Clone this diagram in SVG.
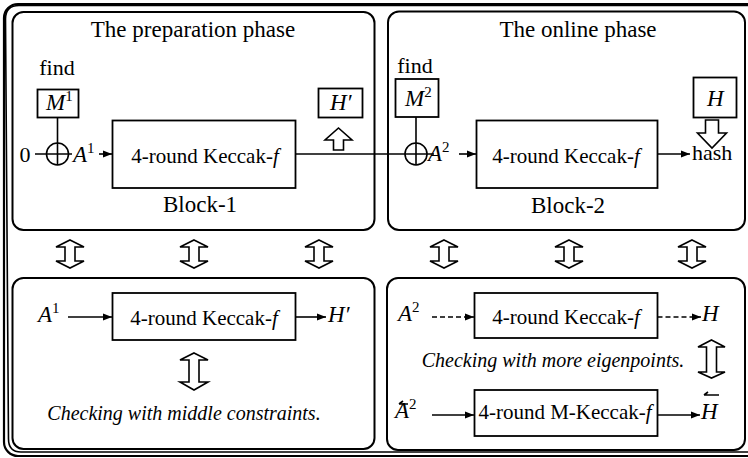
<svg xmlns="http://www.w3.org/2000/svg" width="748" height="458" viewBox="0 0 748 458" font-family="'Liberation Serif', 'Times New Roman', 'DejaVu Serif', serif">
  <style>
    .frame { fill: none; stroke: #000; stroke-width: 2.2; }
    .panel { fill: none; stroke: #000; stroke-width: 2; }
    .box { fill: #fff; stroke: #000; stroke-width: 1.8; }
    .ln { fill: none; stroke: #000; stroke-width: 1.6; }
    .dash { fill: none; stroke: #000; stroke-width: 1.6; stroke-dasharray: 5 3; }
    .hollow { fill: #fff; stroke: #000; stroke-width: 1.6; stroke-linejoin: miter; }
    text { font-family: 'Liberation Serif', 'Times New Roman', 'DejaVu Serif', serif; fill: #000; }
    .title { font-size: 23px; text-anchor: middle; }
    .lbl { font-size: 22px; }
    .fn { font-size: 21px; text-anchor: middle; }
    .math { font-size: 23px; font-style: italic; }
    .sup { font-size: 15px; font-style: normal; }
    .note { font-size: 20px; font-style: italic; text-anchor: middle; }
  </style>
  <defs>
    <marker id="head" markerUnits="userSpaceOnUse" markerWidth="10" markerHeight="8" refX="9" refY="4" orient="auto">
      <path d="M0,0.5 L9,4 L0,7.5 Z" fill="#000"/>
    </marker>
    <!-- hollow double-headed vertical arrow, 28 wide, 28 tall -->
    <path id="dbl" d="M0,0 L14,7 L5,7 L5,21 L14,21 L0,28 L-14,21 L-5,21 L-5,7 L-14,7 Z"/>
  </defs>

  <!-- outer double frame -->
  <g id="frame">
    <rect class="frame" x="4" y="4" width="800" height="452" rx="14"/>
    <path class="ln" stroke-width="1.3" d="M760,5.5 L19,5.5 Q5.5,5.5 5.5,19 L8.5,439 Q8.5,452 21,452 L760,452"/>
  </g>

  <!-- preparation phase -->
  <g id="prep-phase">
    <rect class="panel" x="12.5" y="12" width="362" height="218" rx="11"/>
    <text class="title" x="193" y="37">The preparation phase</text>
    <text class="lbl" x="57" y="75" text-anchor="middle">find</text>
    <text class="lbl" x="25" y="162" text-anchor="middle">0</text>
    <text class="math" x="73" y="162">A<tspan class="sup" dy="-9">1</tspan></text>
    <text class="title" x="200" y="212">Block-1</text>
  </g>
  <g id="m1">
    <rect class="box" x="37.5" y="89.5" width="41" height="28"/>
    <text class="math" x="46" y="110">M<tspan class="sup" dy="-9">1</tspan></text>
  </g>
  <g id="xor1">
    <circle class="ln" cx="57.5" cy="154" r="11" fill="none"/>
    <path class="ln" d="M57.5,117.5 V165"/>
  </g>
  <g id="keccak1">
    <rect class="box" x="112.5" y="120.5" width="183" height="67.5"/>
    <text class="fn" x="205" y="163">4-round Keccak-<tspan font-style="italic">f</tspan></text>
  </g>
  <g id="hprime">
    <rect class="box" x="318.5" y="88.5" width="44" height="29"/>
    <text class="math" x="330" y="110">H′</text>
  </g>

  <!-- online phase -->
  <g id="online-phase">
    <rect class="panel" x="388" y="11.5" width="357" height="218.5" rx="11"/>
    <text class="title" x="578" y="37">The online phase</text>
    <text class="lbl" x="415" y="73" text-anchor="middle">find</text>
    <text class="math" x="428" y="161">A<tspan class="sup" dy="-9">2</tspan></text>
    <text class="lbl" x="692" y="160" font-size="23px">hash</text>
    <text class="title" x="568" y="213">Block-2</text>
  </g>
  <g id="m2">
    <rect class="box" x="395.5" y="79" width="43" height="38"/>
    <text class="math" x="405" y="106">M<tspan class="sup" dy="-9">2</tspan></text>
  </g>
  <g id="xor2">
    <circle class="ln" cx="416" cy="154" r="11" fill="none"/>
    <path class="ln" d="M416,117 V165"/>
  </g>
  <g id="keccak2">
    <rect class="box" x="476.5" y="120.5" width="181" height="67.5"/>
    <text class="fn" x="566" y="163">4-round Keccak-<tspan font-style="italic">f</tspan></text>
  </g>
  <g id="h-target">
    <rect class="box" x="693.5" y="77.5" width="43" height="40"/>
    <text class="math" x="707" y="106">H</text>
  </g>

  <!-- lower-left check -->
  <g id="check-middle">
    <rect class="panel" x="12.5" y="278" width="362" height="171" rx="11"/>
    <text class="math" x="38" y="322">A<tspan class="sup" dy="-9">1</tspan></text>
    <rect class="box" x="112.5" y="293" width="183" height="47"/>
    <text class="fn" x="204" y="325">4-round Keccak-<tspan font-style="italic">f</tspan></text>
    <text class="math" x="328" y="322">H′</text>
    <text class="note" x="184" y="420">Checking with middle constraints.</text>
  </g>

  <!-- lower-right check -->
  <g id="check-eigen">
    <rect class="panel" x="387" y="278" width="358" height="172" rx="11"/>
    <text class="math" x="398" y="321">A<tspan class="sup" dy="-9">2</tspan></text>
    <rect class="box" x="474.5" y="293" width="183" height="45"/>
    <text class="fn" x="566" y="324">4-round Keccak-<tspan font-style="italic">f</tspan></text>
    <text class="math" x="702" y="321">H</text>
    <text class="note" x="553" y="367">Checking with more eigenpoints.</text>
    <text class="math" x="395" y="418">A<tspan class="sup" dy="-9">2</tspan></text>
    <path class="ln" stroke-width="1.1" d="M408,404 H399 M399,404 L403,401"/>
    <rect class="box" x="474.5" y="390" width="183" height="46"/>
    <text class="fn" x="565" y="419">4-round M-Keccak-<tspan font-style="italic">f</tspan></text>
    <text class="math" x="701" y="419">H</text>
    <path class="ln" stroke-width="1.1" d="M719,395 H704 M704,395 L708,392"/>
  </g>

  <!-- connectors -->
  <g id="connectors">
    <path class="ln" d="M35,154 H72"/>
    <path class="ln" d="M99,154 H112" marker-end="url(#head)"/>
    <path class="ln" d="M295.5,154 H434"/>
    <path class="ln" d="M459,154 H476" marker-end="url(#head)"/>
    <path class="ln" d="M657.5,154 H690" marker-end="url(#head)"/>
    <path class="hollow" d="M338.5,128 L352,140 L343.5,140 L343.5,150 L333.5,150 L333.5,140 L325,140 Z"/>
    <path class="hollow" d="M705.5,120 L718.5,120 L718.5,133 L726.5,133 L712,148 L697.5,133 L705.5,133 Z"/>

    <use href="#dbl" class="hollow" x="70" y="240"/>
    <use href="#dbl" class="hollow" x="194" y="240"/>
    <use href="#dbl" class="hollow" x="319" y="240"/>
    <use href="#dbl" class="hollow" x="444" y="240"/>
    <use href="#dbl" class="hollow" x="569" y="240"/>
    <use href="#dbl" class="hollow" x="692" y="240"/>

    <path class="hollow" d="M194,353 L208,360 L199,360 L199,382 L208,382 L194,390 L180,382 L189,382 L189,360 L180,360 Z"/>
    <path class="hollow" d="M711.5,340 L725,347 L716.5,347 L716.5,372 L725,372 L711.5,378 L698,372 L706.5,372 L706.5,347 L698,347 Z"/>

    <path class="ln" d="M68,317 H112" marker-end="url(#head)"/>
    <path class="ln" d="M295.5,317 H326" marker-end="url(#head)"/>
    <path class="dash" d="M432,317 H474" marker-end="url(#head)"/>
    <path class="dash" d="M657.5,317 H701" marker-end="url(#head)"/>
    <path class="ln" d="M432,415 H474" marker-end="url(#head)"/>
    <path class="ln" d="M657.5,415 H700" marker-end="url(#head)"/>
  </g>
</svg>
